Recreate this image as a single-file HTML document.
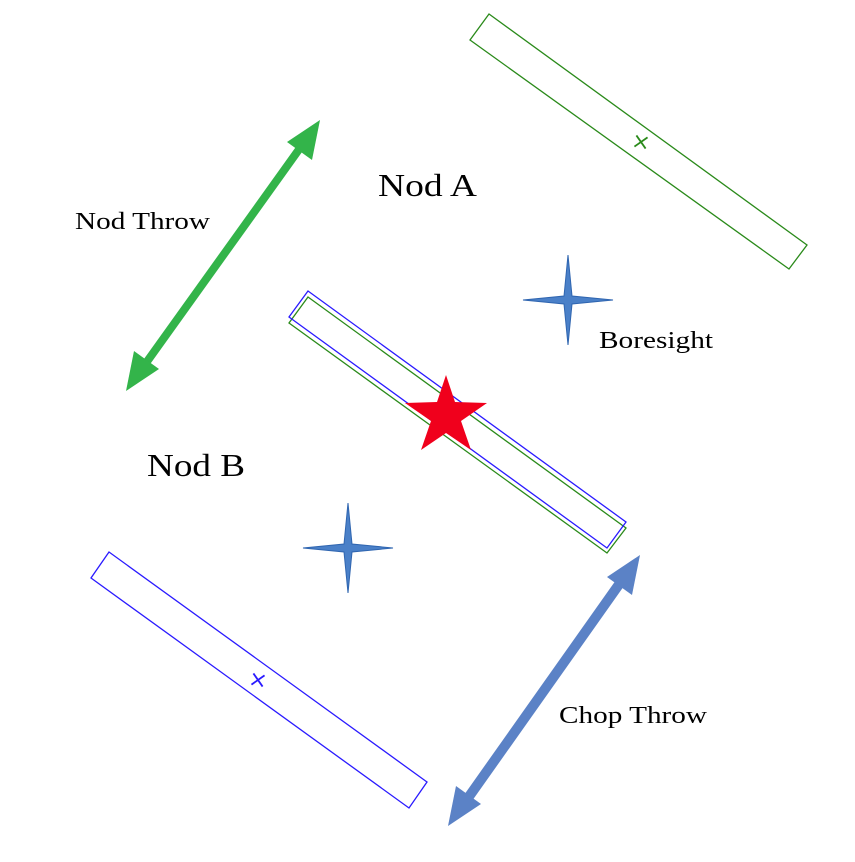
<!DOCTYPE html>
<html><head><style>body{margin:0;background:#fff}</style></head><body>
<svg width="855" height="857" viewBox="0 0 855 857" xmlns="http://www.w3.org/2000/svg" font-family="Liberation Serif, serif">
<polygon points="489,14 470,40 789,269 807,245" fill="none" stroke="#2a8a1a" stroke-width="1.3"/>
<path d="M633,142 L649,142 M641,134 L641,150" stroke="#2a8a1a" stroke-width="1.8" transform="rotate(-35 641 142)"/>
<polygon points="308,297 289,323 607,553 626,528" fill="none" stroke="#2a8a1a" stroke-width="1.3"/>
<polygon points="308,291 289,317 607,548 626,522" fill="none" stroke="#2a1aff" stroke-width="1.3"/>
<polygon points="109,552 91,578 409,808 427,782" fill="none" stroke="#2a1aff" stroke-width="1.3"/>
<path d="M250,680 L266,680 M258,672 L258,688" stroke="#2a1aff" stroke-width="1.8" transform="rotate(-35 258 680)"/>
<line x1="300" y1="148" x2="146" y2="363" stroke="#33b44a" stroke-width="8"/>
<polygon points="320,120 312,160 287,142" fill="#33b44a"/>
<polygon points="126,391 134,351 159,369" fill="#33b44a"/>
<line x1="620" y1="583" x2="468" y2="798" stroke="#5b82c6" stroke-width="10"/>
<polygon points="640,555 632,595 607,577" fill="#5b82c6"/>
<polygon points="448,826 456,786 481,804" fill="#5b82c6"/>
<polygon points="446,375 455,402 487,403 461,421 471,450 446,433 421,450 431,421 405,403 437,402" fill="#f0001c"/>
<g fill="#4a80c8" stroke="#2f65b0" stroke-width="1">
<path d="M568,255 L572,296 L613,300 L572,304 L568,345 L564,304 L523,300 L564,296 Z"/>
<path d="M348,503 L352,544 L393,548 L352,552 L348,593 L344,552 L303,548 L344,544 Z"/>
</g>
<text x="378" y="196" font-size="32" textLength="99" lengthAdjust="spacingAndGlyphs">Nod A</text>
<text x="147" y="476" font-size="32" textLength="98" lengthAdjust="spacingAndGlyphs">Nod B</text>
<text x="75" y="229" font-size="24" textLength="135" lengthAdjust="spacingAndGlyphs">Nod Throw</text>
<text x="599" y="348" font-size="24" textLength="114" lengthAdjust="spacingAndGlyphs">Boresight</text>
<text x="559" y="723" font-size="24" textLength="148" lengthAdjust="spacingAndGlyphs">Chop Throw</text>
</svg>
</body></html>
